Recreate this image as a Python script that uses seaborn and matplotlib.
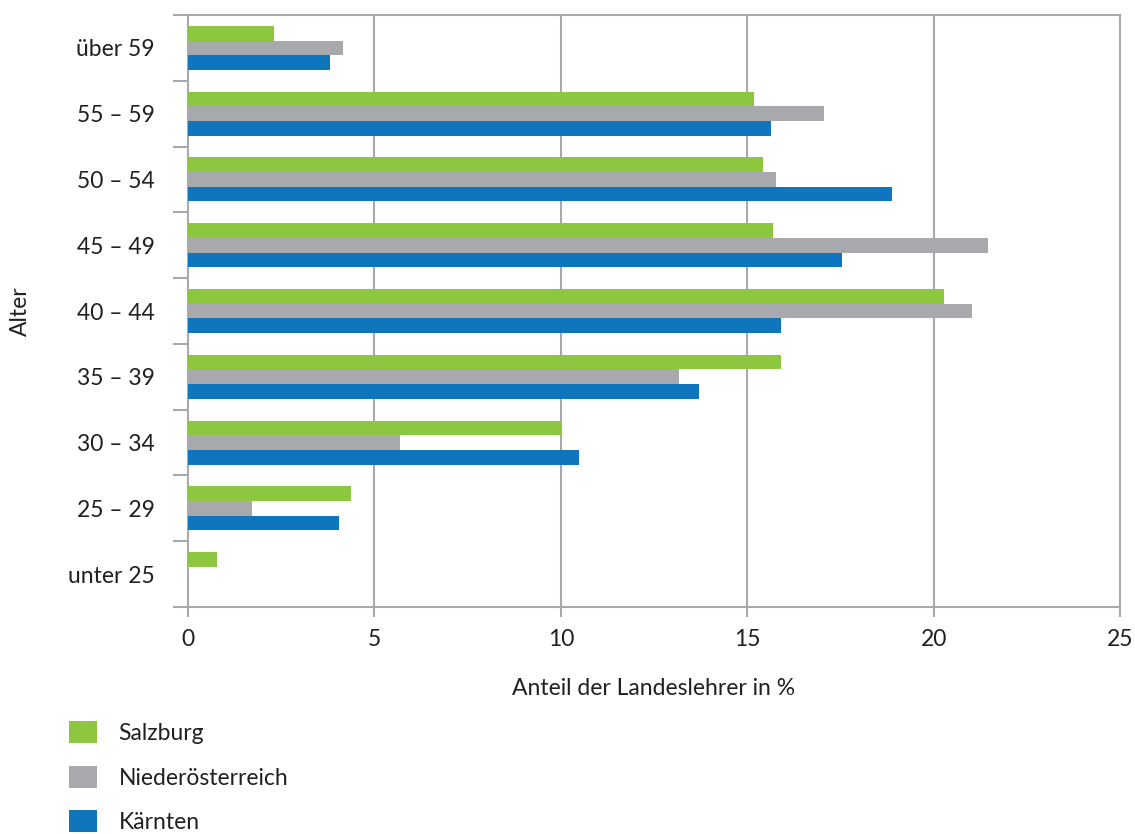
import matplotlib
matplotlib.use("Agg")
import matplotlib.pyplot as plt
import seaborn as sns
import pandas as pd
import numpy as np
from matplotlib.patches import Patch

categories = ["über 59", "55 – 59", "50 – 54", "45 – 49", "40 – 44",
              "35 – 39", "30 – 34", "25 – 29", "unter 25"]
series_names = ["Salzburg", "Niederösterreich", "Kärnten"]
salzburg = [2.32, 15.18, 15.42, 15.69, 20.29, 15.92, 10.02, 4.37, 0.78]
niederoesterreich = [4.16, 17.05, 15.77, 21.45, 21.02, 13.18, 5.68, 1.72, 0.0]
kaernten = [3.81, 15.63, 18.88, 17.54, 15.90, 13.72, 10.50, 4.05, 0.0]
xticks = [0, 5, 10, 15, 20, 25]

colors = ["#8DC63F", "#A7A9AC", "#0F75BC"]
edge = "#A7A9AC"
text_color = "#231F20"

sns.set_theme(style="white")
plt.rcParams["font.family"] = ["Lato", "DejaVu Sans"]

df = pd.DataFrame({
    "Alter": categories * 3,
    "Wert": salzburg + niederoesterreich + kaernten,
    "Land": [s for s in series_names for _ in categories],
})

fig = plt.figure(figsize=(11.35, 8.34), dpi=100)
ax = fig.add_axes([188/1135, 1-607/834, (1120-188)/1135, (607-15)/834])

sns.barplot(data=df, y="Alter", x="Wert", hue="Land", order=categories,
            hue_order=series_names, palette=colors, orient="h", width=0.67,
            saturation=1, ax=ax, legend=False, zorder=3, linewidth=0,
            edgecolor="none")

ax.set_xlim(0, 25)
ax.set_ylim(len(categories) - 0.5, -0.5)
ax.set_xticks(xticks)
ax.set_xticklabels([str(t) for t in xticks])
ax.grid(False)
for t in xticks[1:-1]:
    ax.axvline(t, color=edge, lw=1.5, zorder=1)

fs = 16.5
# category boundaries as major ticks, labels on minor ticks
ax.set_yticks(np.arange(-0.5, len(categories)), minor=False)
ax.set_yticklabels([])
ax.set_yticks(np.arange(len(categories)), minor=True)
ax.set_yticklabels(categories, minor=True)
ax.tick_params(axis="y", which="major", length=11, width=1.5, color=edge, left=True)
ax.tick_params(axis="y", which="minor", length=0, pad=24, labelsize=fs, labelcolor=text_color)
ax.tick_params(axis="x", which="major", length=7, width=1.5, color=edge, bottom=True,
               pad=9, labelsize=fs, labelcolor=text_color)

for s in ax.spines.values():
    s.set_visible(True)
    s.set_color(edge)
    s.set_linewidth(1.5)

ax.set_xlabel("Anteil der Landeslehrer in %", fontsize=fs, color=text_color)
ax.set_ylabel("Alter", fontsize=fs, color=text_color)
ax.xaxis.set_label_coords(0.5, -0.12)
ax.yaxis.set_label_coords(-0.168, 0.5)

handles = [Patch(facecolor=c, edgecolor="none") for c in colors]
fig.legend(handles, series_names, loc="upper left",
           bbox_to_anchor=(60/1135, 1-712/834), frameon=False, fontsize=fs,
           handlelength=1.2, handleheight=1.1, labelspacing=0.95,
           handletextpad=0.95, labelcolor=text_color, borderaxespad=0)

fig.savefig("out.png", dpi=100)
